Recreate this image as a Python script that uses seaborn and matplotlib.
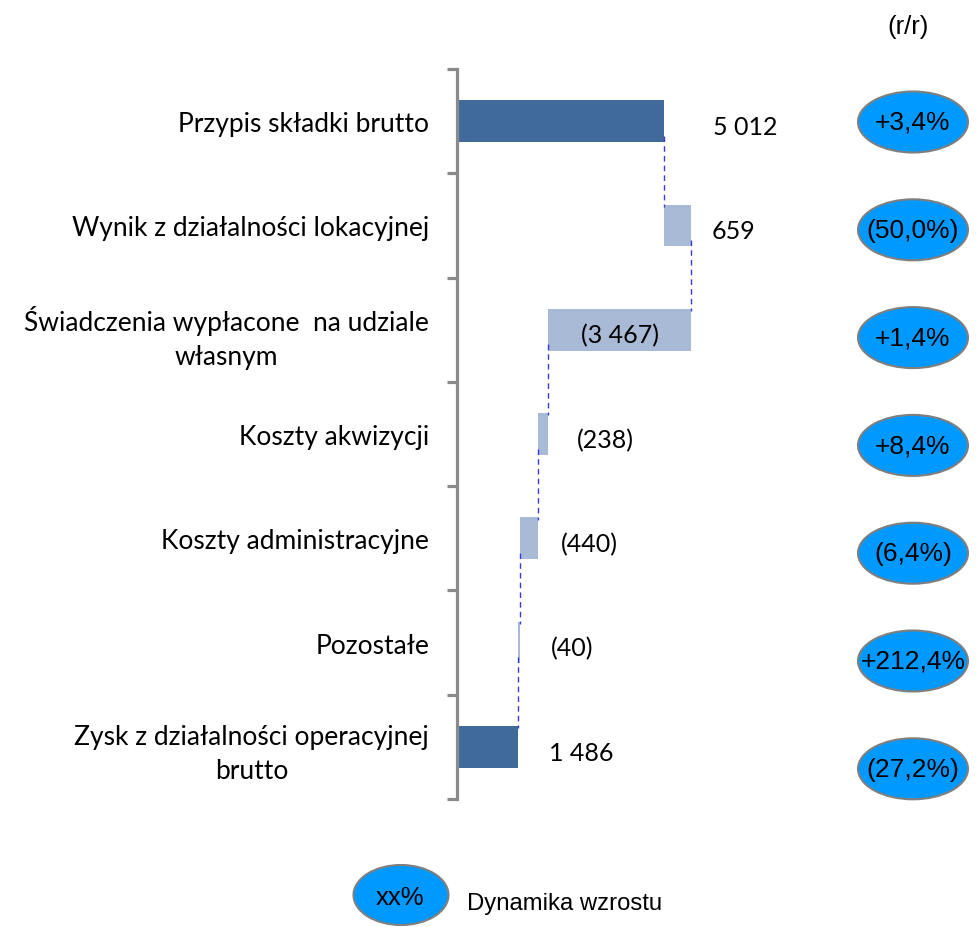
import numpy as np
import pandas as pd
import matplotlib
matplotlib.use("Agg")
import matplotlib.pyplot as plt
from matplotlib.patches import Ellipse
import seaborn as sns

# data
categories = ["Przypis składki brutto",
              "Wynik z działalności lokacyjnej",
              "Świadczenia wypłacone  na udziale\nwłasnym",
              "Koszty akwizycji",
              "Koszty administracyjne",
              "Pozostałe",
              "Zysk z działalności operacyjnej\nbrutto"]
values = [5012, 659, -3467, -238, -440, -40, 1486]
is_total = [True, False, False, False, False, False, True]
value_labels = ["5 012", "659", "(3 467)", "(238)", "(440)", "(40)", "1 486"]
yoy_labels = ["+3,4%", "(50,0%)", "+1,4%", "+8,4%", "(6,4%)", "+212,4%", "(27,2%)"]

dark = "#3F6A9A"
light = "#A9BAD6"
bubble = "#0099FF"
grey = "#8A8A8A"

# waterfall start / end
starts, ends = [], []
run = 0
for v, tot in zip(values, is_total):
    if tot:
        starts.append(0)
        ends.append(v)
        run = v
    else:
        starts.append(run)
        run += v
        ends.append(run)
lo = np.minimum(starts, ends)
df = pd.DataFrame({"cat": categories, "width": np.abs(values), "left": lo})

sns.set_style("white")
plt.rcParams["font.family"] = ["Lato", "DejaVu Sans"]
plt.rcParams["text.color"] = "black"

W, H = 976, 928
fig = plt.figure(figsize=(W / 100, H / 100), dpi=100)
ax = fig.add_axes([457 / W, 1 - 800 / H, 400 / W, 730 / H])

sns.barplot(data=df, x="width", y="cat", left=df["left"], color=light,
            width=0.4, orient="h", linewidth=0, ax=ax)
for p, tot in zip(ax.patches, is_total):
    p.set_facecolor(dark if tot else light)
    p.set_edgecolor("none")

ax.set_xlim(0, 400 / 0.0413)
ax.set_ylim(6.5, -0.5)

# connectors
for i in range(len(values) - 1):
    ax.plot([ends[i], ends[i]], [i + 0.14, i + 0.82], color="#3A3AD8",
            lw=1, ls=(0, (4, 3)), zorder=3)

# value labels
label_pad = [35, 15, 0, 21, 16, 22, 22]
for i, (txt, s, e) in enumerate(zip(value_labels, starts, ends)):
    if abs(values[i]) > 2000 and not is_total[i]:
        ax.text((s + e) / 2, i + 0.05, txt, ha="center", va="center",
                fontsize=18, color="black")
    else:
        ax.annotate(txt, (max(s, e), i + 0.05), xytext=(label_pad[i], 0),
                    textcoords="offset points", ha="left", va="center",
                    fontsize=18, color="black")

# axis styling
ax.xaxis.set_visible(False)
for sp in ["top", "right", "bottom"]:
    ax.spines[sp].set_visible(False)
ax.spines["left"].set_color(grey)
ax.spines["left"].set_linewidth(2.3)
ax.set_ylabel("")
ax.set_yticks(range(len(categories)))
ax.set_yticklabels(categories, fontsize=19, linespacing=1.45, color="black")
for lab in ax.get_yticklabels():
    lab.set_multialignment("center")
ax.set_yticks(np.arange(-0.5, len(categories), 1), minor=True)
ax.tick_params(axis="y", which="major", left=False, length=0, pad=20)
ax.tick_params(axis="y", which="minor", left=True, length=7, width=2.3,
               color=grey, direction="out")

# r/r bubbles
arial = ["Liberation Sans", "DejaVu Sans"]
fig.text(908 / W, 1 - 27 / H, "(r/r)", ha="center", va="center", fontsize=18.5, family=arial)
for i, txt in enumerate(yoy_labels):
    cy = 123 + i * 107.8
    fig.add_artist(Ellipse((913 / W, 1 - cy / H), 110 / W, 61 / H, facecolor=bubble,
                           edgecolor="#7F7F7F", lw=1.5, transform=fig.transFigure))
    fig.text(913 / W, 1 - cy / H, txt, ha="center", va="center", fontsize=19, family=arial)

# legend
fig.add_artist(Ellipse((401 / W, 1 - 896 / H), 95 / W, 60 / H, facecolor=bubble,
                       edgecolor="#7F7F7F", lw=1.5, transform=fig.transFigure))
fig.text(400 / W, 1 - 898 / H, "xx%", ha="center", va="center", fontsize=18.5, family=arial)
fig.text(467 / W, 1 - 904 / H, "Dynamika wzrostu", ha="left", va="center", fontsize=17.2, family=arial)

fig.savefig("out.png", dpi=100)
